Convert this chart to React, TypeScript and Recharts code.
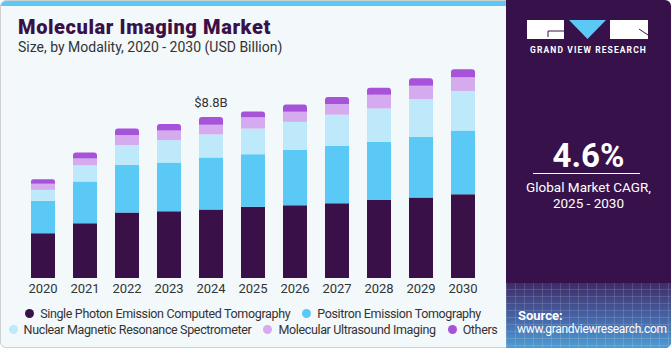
import React from 'react';
import { BarChart, Bar, XAxis, YAxis, LabelList } from 'recharts';

const years = ['2020', '2021', '2022', '2023', '2024', '2025', '2026', '2027', '2028', '2029', '2030'];
const spect = [2.45, 3.0, 3.58, 3.65, 3.74, 3.89, 3.98, 4.09, 4.27, 4.4, 4.58];
const pet = [1.77, 2.28, 2.61, 2.66, 2.85, 2.88, 3.03, 3.14, 3.18, 3.32, 3.48];
const nmr = [0.6, 0.88, 1.08, 1.23, 1.26, 1.4, 1.53, 1.7, 1.82, 2.06, 2.17];
const mui = [0.33, 0.37, 0.53, 0.53, 0.53, 0.62, 0.55, 0.59, 0.75, 0.73, 0.75];
const others = [0.25, 0.33, 0.37, 0.35, 0.42, 0.31, 0.4, 0.38, 0.38, 0.42, 0.44];
const valueLabels = ['', '', '', '', '$8.8B', '', '', '', '', '', ''];

const seriesNames = [
  'Single Photon Emission Computed Tomography',
  'Positron Emission Tomography',
  'Nuclear Magnetic Resonance Spectrometer',
  'Molecular Ultrasound Imaging',
  'Others',
];
const seriesKeys = ['spect', 'pet', 'nmr', 'mui', 'others'];
const seriesColors = ['#3A1048', '#5BC9F5', '#BDE9FA', '#D5AAEE', '#A652D9'];

const data = years.map((y, i) => ({
  year: y,
  spect: spect[i],
  pet: pet[i],
  nmr: nmr[i],
  mui: mui[i],
  others: others[i],
  label: valueLabels[i],
}));

const FONT = 'Roboto, "Liberation Sans", Arial, sans-serif';

export default function App() {
  return (
    <div style={{ position: 'absolute', left: 0, top: 0, width: 671, height: 350, fontFamily: FONT, overflow: 'hidden' }}>
      {/* left card */}
      <div
        style={{
          position: 'absolute', left: 0, top: 0, width: 520, height: 348,
          background: '#F3F8FB', border: '1px solid #CFCFCF', borderRadius: 6, boxSizing: 'border-box', overflow: 'hidden',
        }}
      >
        <div style={{ position: 'absolute', left: 0, top: 0, width: '100%', height: 5, background: '#5BC8F5' }} />
      </div>
      {/* title */}
      <div style={{ position: 'absolute', left: 18, top: 15, fontSize: 20, fontWeight: 900, letterSpacing: 0.6, color: '#3A1048', whiteSpace: 'nowrap' }}>
        Molecular Imaging Market
      </div>
      <div style={{ position: 'absolute', left: 18, top: 39, fontSize: 14, color: '#333', whiteSpace: 'nowrap' }}>
        Size, by Modality, 2020 - 2030 (USD Billion)
      </div>
      {/* chart */}
      <div style={{ position: 'absolute', left: 0, top: 0 }}>
        <BarChart width={506} height={300} data={data} margin={{ top: 22, right: 22, left: 22, bottom: 2 }}>
          <XAxis
            dataKey="year"
            height={20}
            axisLine={false}
            tickLine={false}
            tickSize={4}
            tickMargin={2}
            interval={0}
            tick={{ fill: '#333', fontSize: 13, fontFamily: FONT }}
          />
          <YAxis hide domain={[0, 14]} />
          {seriesKeys.map((k, i) => (
            <Bar
              key={k}
              dataKey={k}
              stackId="a"
              fill={seriesColors[i]}
              barSize={24}
              isAnimationActive={false}
              radius={i === 4 ? [3, 3, 0, 0] : 0}
            >
              {i === 4 ? (
                <LabelList dataKey="label" position="top" offset={10} fill="#333" fontSize={13} fontFamily={FONT} />
              ) : null}
            </Bar>
          ))}
        </BarChart>
      </div>
      {/* legend */}
      <div
        style={{
          position: 'absolute', left: 0, top: 305, width: 506, display: 'flex', flexWrap: 'wrap',
          justifyContent: 'center', fontSize: 12.5, letterSpacing: -0.35, color: '#333', rowGap: 0,
        }}
      >
        {seriesNames.map((n, i) => (
          <div key={n} style={{ display: 'flex', alignItems: 'center', margin: '0 6px', whiteSpace: 'nowrap', height: 16 }}>
            <span style={{ display: 'inline-block', width: 9, height: 9, borderRadius: '50%', background: seriesColors[i], marginRight: 6 }} />
            {n}
          </div>
        ))}
      </div>
      {/* right panel */}
      <div style={{ position: 'absolute', left: 506, top: 0, width: 165, height: 348, background: '#37124A', borderTopRightRadius: 6, borderBottomRightRadius: 6, overflow: 'hidden' }}>
        <div
          style={{
            position: 'absolute', left: 0, top: 283, width: '100%', height: 70,
            background: 'linear-gradient(to bottom, #3E2C67 0%, #4765A6 50%, #4FA6DA 100%)',
          }}
        >
          <div
            style={{
              position: 'absolute', inset: 0,
              backgroundImage:
                'repeating-linear-gradient(90deg, rgba(255,255,255,0.13) 0 1px, transparent 1px 9px), repeating-linear-gradient(0deg, rgba(255,255,255,0.13) 0 1px, transparent 1px 7px)',
            }}
          />
        </div>
        <svg width={165} height={60} style={{ position: 'absolute', left: 0, top: 0 }}>
          <rect x={21} y={20} width={37} height={19} fill="#fff" />
          <path d="M42 37 L42 31 L58 31" stroke="#37124A" strokeWidth={1} fill="none" />
          <polygon points="63,20 100,20 81.5,39" fill="#5BC8F5" />
          <rect x={104} y={20} width={38} height={19} fill="#fff" />
          <line x1={133} y1={29} x2={142} y2={35} stroke="#37124A" strokeWidth={1} />
        </svg>
        <div style={{ position: 'absolute', left: 0, top: 45, width: '100%', textAlign: 'center', color: '#fff', fontSize: 8.5, fontWeight: 700, letterSpacing: 1.1, whiteSpace: 'nowrap' }}>
          GRAND VIEW RESEARCH
        </div>
        <div style={{ position: 'absolute', left: 0, top: 136, width: '100%', textAlign: 'center', color: '#fff', fontSize: 33, fontWeight: 700 }}>
          4.6%
        </div>
        <div style={{ position: 'absolute', left: 27, top: 173, width: 107, height: 1, background: '#fff' }} />
        <div style={{ position: 'absolute', left: 0, top: 179, width: '100%', textAlign: 'center', color: '#fff', fontSize: 13.5, lineHeight: '16px' }}>
          Global Market CAGR,
          <br />
          2025 - 2030
        </div>
        <div style={{ position: 'absolute', left: 12, top: 308, color: '#fff', fontSize: 13, fontWeight: 700, lineHeight: '15px' }}>
          Source:
        </div>
        <div style={{ position: 'absolute', left: 11, top: 322, color: '#fff', fontSize: 12, letterSpacing: -0.3, lineHeight: '15px', whiteSpace: 'nowrap' }}>
          www.grandviewresearch.com
        </div>
      </div>
    </div>
  );
}
